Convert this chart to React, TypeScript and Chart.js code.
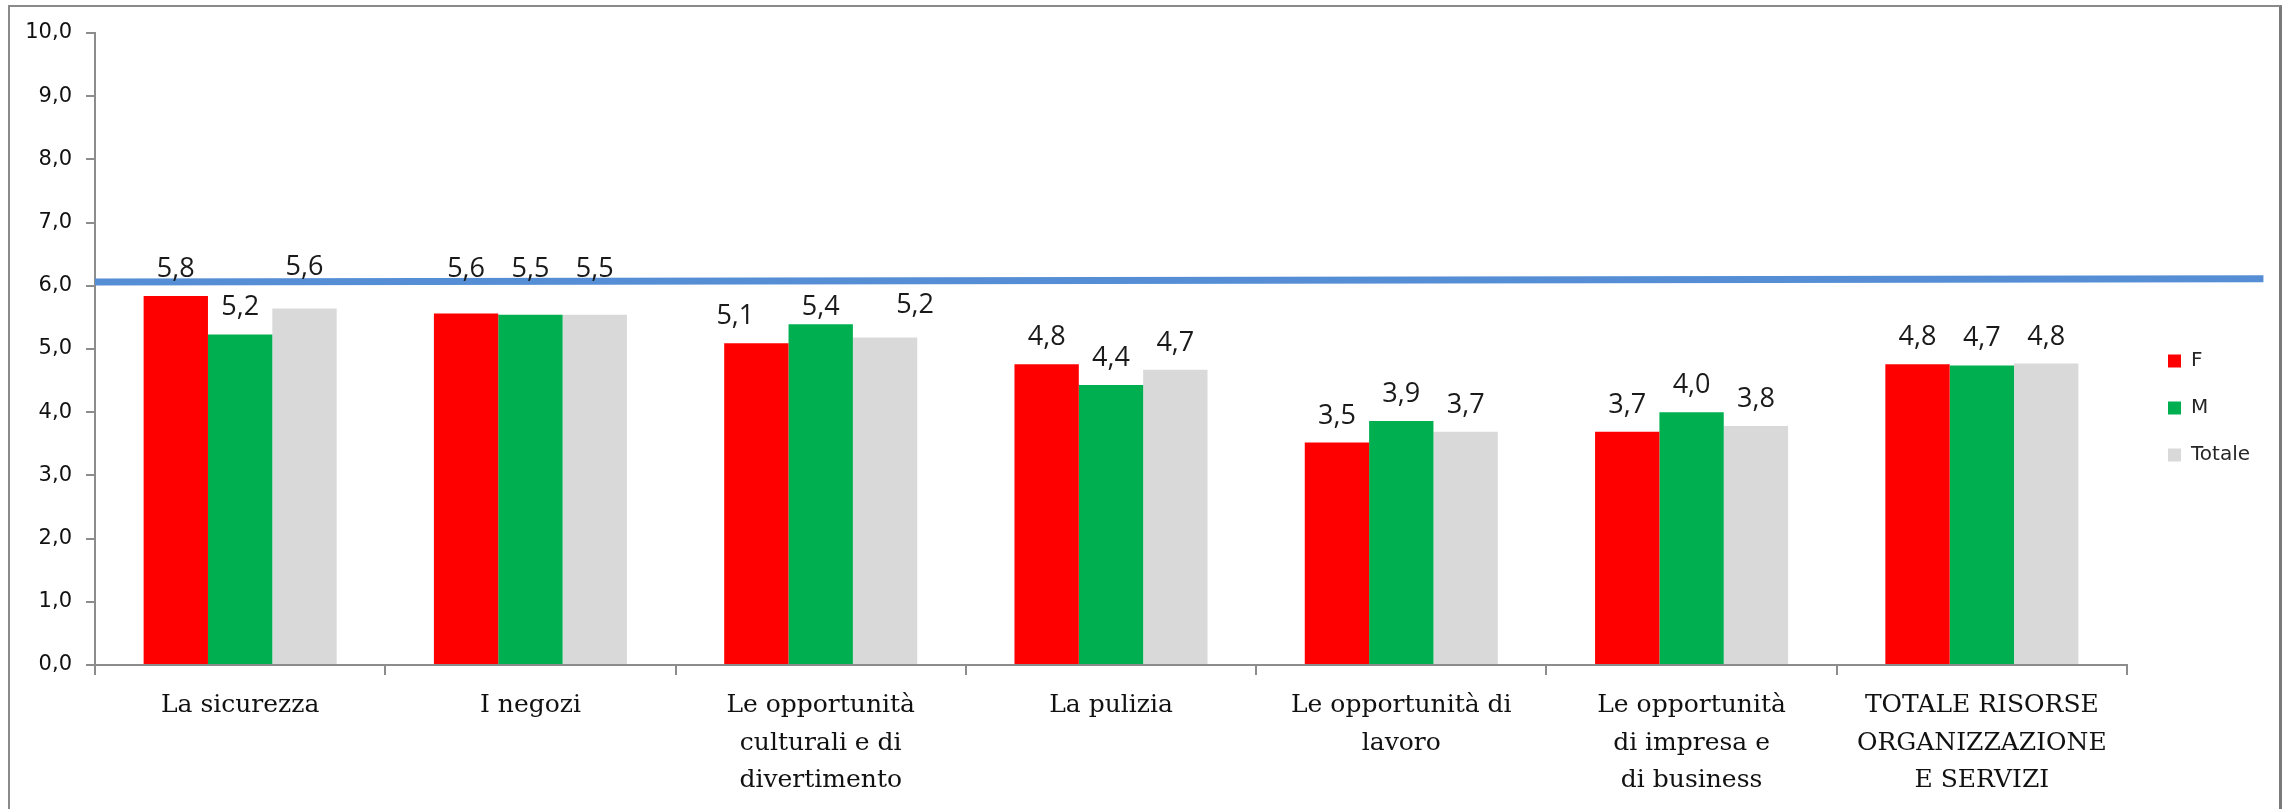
import React, { useEffect, useRef } from 'react';
import { Chart, registerables } from 'chart.js';

Chart.register(...registerables);

// ---- data ----
const categories: (string | string[])[] = [
  'La sicurezza',
  'I negozi',
  ['Le opportunità', 'culturali e di', 'divertimento'],
  'La pulizia',
  ['Le opportunità di', 'lavoro'],
  ['Le opportunità', 'di impresa e', 'di business'],
  ['TOTALE RISORSE', 'ORGANIZZAZIONE', 'E SERVIZI'],
];
const seriesNames = ['F', 'M', 'Totale'];
const valuesF = [5.84, 5.56, 5.09, 4.76, 3.52, 3.69, 4.76];
const valuesM = [5.23, 5.54, 5.39, 4.43, 3.86, 4.0, 4.74];
const valuesTotale = [5.64, 5.54, 5.18, 4.67, 3.69, 3.78, 4.77];
// reference line: x in category units (-0.5 = left edge of the axis), y in score units
const refLineX = [-0.5, 6.97];
const refLineY = [6.06, 6.11];
const yMin = 0;
const yMax = 10;
const yStep = 1;

// ---- styles ----
const colors = ['#ff0000', '#00b050', '#d9d9d9'];
const refLineColor = '#558ed5';
const axisColor = '#8c8c8c';
const labelGap = 19;
// [datasetIndex, categoryIndex, dx, dy] manual label shifts as in the original
const labelNudges: number[][] = [
  [2, 0, 0, -15],
  [0, 1, 0, -18],
  [1, 1, 0, -19],
  [2, 1, 0, -19],
  [0, 2, -21, 0],
  [1, 2, 0, 10],
  [2, 2, 30, -6],
];

const fmt = (v: number) => v.toFixed(1).replace('.', ',');

const refLinePlugin = {
  id: 'refLine',
  afterDatasetsDraw(chart: any) {
    const { ctx, scales } = chart;
    const xs = scales.x;
    const ys = scales.y;
    ctx.save();
    ctx.strokeStyle = refLineColor;
    ctx.lineWidth = 7;
    ctx.lineCap = 'butt';
    ctx.beginPath();
    refLineX.forEach((xv, i) => {
      const px = xs.getPixelForValue(xv);
      const py = ys.getPixelForValue(refLineY[i]);
      if (i === 0) ctx.moveTo(px, py);
      else ctx.lineTo(px, py);
    });
    ctx.stroke();
    ctx.restore();
  },
};

const dataLabelPlugin = {
  id: 'barValueLabels',
  afterDatasetsDraw(chart: any) {
    const ctx = chart.ctx;
    ctx.save();
    ctx.font = '27px "Open Sans"';
    ctx.fillStyle = '#1a1a1a';
    ctx.textAlign = 'center';
    ctx.textBaseline = 'alphabetic';
    for (let d = 0; d < 3; d++) {
      const meta = chart.getDatasetMeta(d);
      const vals = chart.data.datasets[d].data as number[];
      meta.data.forEach((bar: any, i: number) => {
        let dx = 0;
        let dy = 0;
        labelNudges.forEach((n) => {
          if (n[0] === d && n[1] === i) {
            dx = n[2];
            dy = n[3];
          }
        });
        ctx.fillText(fmt(vals[i]), bar.x + dx, bar.y - labelGap + dy);
      });
    }
    ctx.restore();
  },
};

const legendNudgePlugin = {
  id: 'legendNudge',
  afterLayout(chart: any) {
    const l = chart.legend;
    if (l) {
      l.left += 14;
      l.right += 90;
      l.top -= 13;
      l.bottom -= 13;
    }
  },
};

export default function App() {
  const ref = useRef<HTMLCanvasElement | null>(null);

  useEffect(() => {
    if (!ref.current) return;
    const chart = new Chart(ref.current, {
      type: 'bar',
      data: {
        labels: categories as any,
        datasets: [
          { label: seriesNames[0], data: valuesF, backgroundColor: colors[0], borderWidth: 0 },
          { label: seriesNames[1], data: valuesM, backgroundColor: colors[1], borderWidth: 0 },
          { label: seriesNames[2], data: valuesTotale, backgroundColor: colors[2], borderWidth: 0 },
        ],
      },
      options: {
        responsive: false,
        animation: false,
        devicePixelRatio: 1,
        layout: { padding: { left: 0, top: 33, right: 65, bottom: 0 } },
        datasets: {
          bar: { barPercentage: 1, categoryPercentage: 0.665 },
        },
        scales: {
          x: {
            type: 'category',
            offset: true,
            grid: {
              offset: true,
              drawOnChartArea: false,
              drawTicks: true,
              tickLength: 10,
              color: axisColor,
              lineWidth: 2,
            },
            border: { display: true, color: axisColor, width: 2 },
            ticks: {
              maxRotation: 0,
              minRotation: 0,
              autoSkip: false,
              padding: 12,
              color: '#111111',
              font: { family: '"DejaVu Serif"', size: 25, lineHeight: 1.5 },
            },
            afterFit(scale: any) {
              scale.height = 144;
            },
          },
          y: {
            min: yMin,
            max: yMax,
            grid: {
              drawOnChartArea: false,
              drawTicks: true,
              tickLength: 9,
              color: axisColor,
              lineWidth: 2,
            },
            border: { display: true, color: axisColor, width: 2 },
            ticks: {
              stepSize: yStep,
              padding: 14,
              color: '#111111',
              font: { family: '"DejaVu Sans"', size: 21 },
              callback: (v: any) => fmt(Number(v)),
            },
            afterFit(scale: any) {
              scale.width = 95;
            },
          },
        },
        plugins: {
          legend: {
            display: true,
            position: 'right',
            maxWidth: 100,
            labels: {
              boxWidth: 13,
              boxHeight: 13,
              padding: 27,
              color: '#262626',
              font: { family: '"DejaVu Sans"', size: 20 },
            },
          },
          tooltip: { enabled: false },
          title: { display: false },
        },
      } as any,
      plugins: [refLinePlugin, dataLabelPlugin, legendNudgePlugin],
    });
    return () => chart.destroy();
  }, []);

  return (
    <div>
      <div
        style={{
          position: 'absolute',
          left: 8,
          top: 5,
          width: 2274,
          height: 804,
          boxSizing: 'border-box',
          borderTop: '2px solid #8a8a8a',
          borderLeft: '2px solid #8a8a8a',
          borderRight: '3px solid #7a7a7a',
          borderBottom: 'none',
        }}
      />
      <canvas
        ref={ref}
        width={2292}
        height={809}
        style={{ position: 'absolute', left: 0, top: 0, width: 2292, height: 809 }}
      />
    </div>
  );
}
